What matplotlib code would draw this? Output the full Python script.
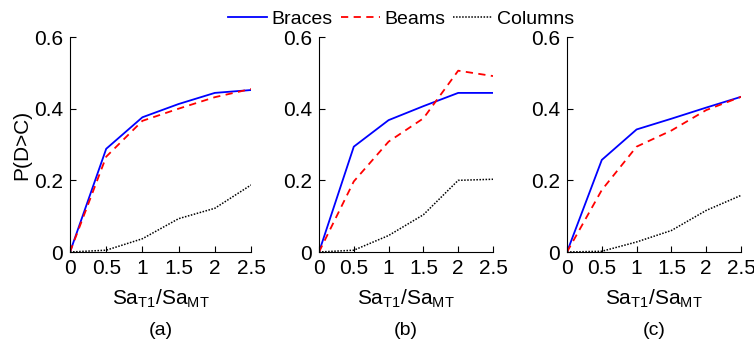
"""Fragility curves P(D>C) vs Sa_T1/Sa_MT for braces, beams and columns."""

import matplotlib

matplotlib.use("Agg")
import matplotlib.pyplot as plt

plt.rcParams["font.family"] = ["Liberation Sans", "DejaVu Sans"]
plt.rcParams["mathtext.fontset"] = "custom"
plt.rcParams["mathtext.rm"] = "Liberation Sans"
plt.rcParams["mathtext.it"] = "Liberation Sans"

sa_ratio = [0, 0.5, 1, 1.5, 2, 2.5]
x_ticks = ["0", "0.5", "1", "1.5", "2", "2.5"]
y_ticks = ["0", "0.2", "0.4", "0.6"]
panel_labels = ["(a)", "(b)", "(c)"]

braces_a = [0, 0.288, 0.376, 0.413, 0.444, 0.452]
beams_a = [0, 0.266, 0.366, 0.400, 0.432, 0.455]
columns_a = [0, 0.005, 0.037, 0.093, 0.122, 0.187]

braces_b = [0, 0.294, 0.368, 0.407, 0.444, 0.444]
beams_b = [0, 0.197, 0.308, 0.373, 0.506, 0.491]
columns_b = [0, 0.005, 0.046, 0.104, 0.200, 0.203]

braces_c = [0, 0.257, 0.342, 0.372, 0.403, 0.433]
beams_c = [0, 0.173, 0.294, 0.339, 0.396, 0.433]
columns_c = [0, 0.002, 0.028, 0.060, 0.116, 0.158]

panels = [
    (braces_a, beams_a, columns_a),
    (braces_b, beams_b, columns_b),
    (braces_c, beams_c, columns_c),
]

W, H = 754, 343
# left, right pixel edges of each axes
x_edges = [(70, 251), (319, 493), (567, 741)]
y_top, y_bot = 37, 252
FS = 15

fig = plt.figure(figsize=(W / 100, H / 100), dpi=100)

handles = None
for i, (braces, beams, columns) in enumerate(panels):
    x0, x1 = x_edges[i]
    ax = fig.add_axes([x0 / W, 1 - y_bot / H, (x1 - x0) / W, (y_bot - y_top) / H])
    l1, = ax.plot(sa_ratio, braces, color="#0000ff", lw=1.3, label="Braces")
    l2, = ax.plot(sa_ratio, beams, color="#ff0000", lw=1.3, ls=(0, (4, 3)), label="Beams")
    l3, = ax.plot(sa_ratio, columns, color="black", lw=1.1, ls=(0, (1, 1)), label="Columns")
    handles = [l1, l2, l3]

    ax.set_xlim(0, 2.5)
    ax.set_ylim(0, 0.6)
    ax.set_xticks(sa_ratio)
    ax.set_xticklabels(x_ticks)
    ax.set_yticks([0, 0.2, 0.4, 0.6])
    ax.set_yticklabels(y_ticks)
    ax.spines["top"].set_visible(False)
    ax.spines["right"].set_visible(False)
    for s in ("left", "bottom"):
        ax.spines[s].set_linewidth(0.8)
    ax.tick_params(direction="in", length=4, width=0.8, labelsize=FS, pad=5)
    ax.set_xlabel(r"Sa$_{\mathrm{T1}}$/Sa$_{\mathrm{MT}}$", fontsize=FS, labelpad=7)
    if i == 0:
        ax.set_ylabel("P(D>C)", fontsize=FS, labelpad=2)
    ax.text(0.5, -0.325, panel_labels[i], transform=ax.transAxes,
            ha="center", va="top", fontsize=FS - 1)

fig.legend(handles=handles, loc="upper center", bbox_to_anchor=(0.532, 1.02),
           ncol=3, frameon=False, fontsize=14, handlelength=2.0,
           handletextpad=0.25, columnspacing=0.4)

fig.savefig("out.png", dpi=100)
